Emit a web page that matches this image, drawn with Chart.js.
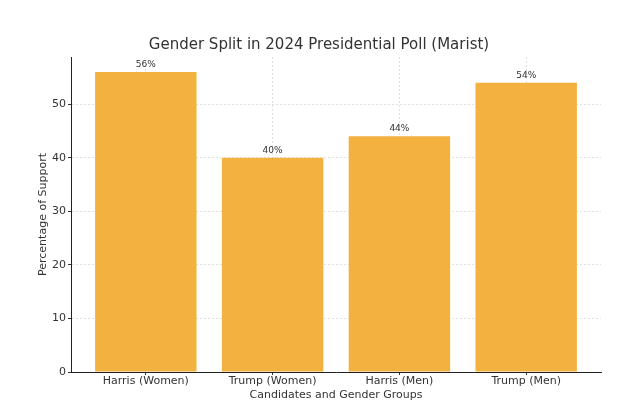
<!DOCTYPE html>
<html><head><meta charset="utf-8">
<script src="https://cdn.jsdelivr.net/npm/chart.js@4"></script>
<style>html,body{margin:0;padding:0;background:#fff}#wrap{width:640px;height:420px}</style>
</head><body><div id="wrap"><canvas id="c" width="640" height="420"></canvas></div>
<script>
const categories = ["Harris (Women)", "Trump (Women)", "Harris (Men)", "Trump (Men)"];
const support = [56, 40, 44, 54];
const valueLabels = ["56%", "40%", "44%", "54%"];
const yTicks = [0, 10, 20, 30, 40, 50];

const FONT = "'DejaVu Sans', sans-serif";
const TXT = '#333333';

const valuePlugin = {
  id: 'valueLabels',
  afterDatasetsDraw(chart) {
    const ctx = chart.ctx;
    const meta = chart.getDatasetMeta(0);
    ctx.save();
    ctx.font = '9px ' + FONT;
    ctx.fillStyle = TXT;
    ctx.textAlign = 'center';
    ctx.textBaseline = 'bottom';
    meta.data.forEach((bar, i) => {
      ctx.fillText(valueLabels[i], bar.x, bar.y - 3);
    });
    ctx.restore();
  }
};

new Chart(document.getElementById('c'), {
  type: 'bar',
  data: {
    datasets: [{
      data: support.map((v, i) => ({x: i, y: v})),
      backgroundColor: '#F3B23F',
      borderWidth: 0,
      categoryPercentage: 0.8,
      barPercentage: 1.0
    }]
  },
  options: {
    responsive: false,
    animation: false,
    layout: {padding: {left: 37, right: 39, top: 0, bottom: 0}},
    plugins: {
      legend: {display: false},
      tooltip: {enabled: false},
      title: {
        display: true,
        text: 'Gender Split in 2024 Presidential Poll (Marist)',
        color: TXT,
        font: {family: FONT, size: 15, weight: 'normal', lineHeight: 1.2},
        padding: {top: 36, bottom: 3}
      }
    },
    scales: {
      x: {
        type: 'linear',
        min: -0.59,
        max: 3.59,
        offset: false,
        z: 1,
        afterBuildTicks(scale) { scale.ticks = categories.map((c, i) => ({value: i})); },
        afterFit(scale) { scale.height = 48; },
        ticks: {
          callback: (v) => categories[v] !== undefined ? categories[v] : '',
          color: TXT,
          font: {family: FONT, size: 11},
          padding: 0,
          maxRotation: 0,
          autoSkip: false
        },
        grid: {offset: false, color: 'rgba(0,0,0,0.12)', tickColor: '#333', tickLength: 3, drawOnChartArea: true},
        border: {display: true, color: '#222', width: 1, dash: [2, 2]},
        title: {
          display: true,
          text: 'Candidates and Gender Groups',
          color: TXT,
          font: {family: FONT, size: 11},
          padding: {top: 0, bottom: 18}
        }
      },
      y: {
        min: 0,
        max: 58.8,
        z: 1,
        afterBuildTicks(scale) { scale.ticks = yTicks.map(v => ({value: v})); },
        afterFit(scale) { scale.width = 34; },
        ticks: {
          color: TXT,
          font: {family: FONT, size: 11},
          padding: 2
        },
        grid: {color: 'rgba(0,0,0,0.12)', tickColor: '#333', tickLength: 3},
        border: {display: true, color: '#222', width: 1, dash: [2, 2]},
        title: {
          display: true,
          text: 'Percentage of Support',
          color: TXT,
          font: {family: FONT, size: 11},
          padding: {top: 0, bottom: 0}
        }
      }
    }
  },
  plugins: [valuePlugin]
});
</script>
</body></html>
